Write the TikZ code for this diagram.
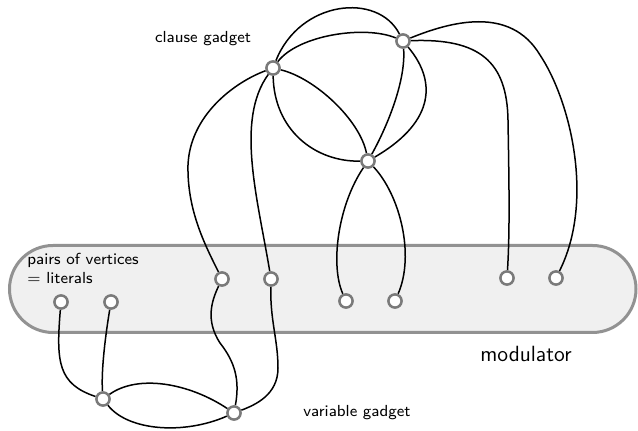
\documentclass[tikz,border=0pt]{standalone}
\usetikzlibrary{backgrounds}
\definecolor{bandfill}{HTML}{F0F0F0}
\definecolor{bandline}{HTML}{929292}
\definecolor{vline}{HTML}{7A7A7A}
\tikzset{
  vtx/.style={circle, draw=vline, line width=1.25pt, fill=white, inner sep=0pt, minimum size=6.6pt},
  edge/.style={line width=0.75pt, black},
  band/.style={draw=bandline, fill=bandfill, line width=1.5pt, rounded corners=21.75pt},
  smalllabel/.style={font=\sffamily\footnotesize, inner sep=0pt},
  biglabel/.style={font=\sffamily\fontsize{11}{13}\selectfont, inner sep=0pt},
}
\begin{document}
\begin{tikzpicture}[x=0.5pt, y=-0.5pt]
  \useasboundingbox (0,0) rectangle (638,431);

  % vertices
  \node[vtx] (L1) at (61,302) {};
  \node[vtx] (L2) at (111,302) {};
  \node[vtx] (A)  at (222,279) {};
  \node[vtx] (B)  at (271,279) {};
  \node[vtx] (C)  at (346,301) {};
  \node[vtx] (D)  at (395,301) {};
  \node[vtx] (E)  at (507,278) {};
  \node[vtx] (F)  at (556,278) {};
  \node[vtx] (V1) at (103,399) {};
  \node[vtx] (V2) at (234,413) {};
  \node[vtx] (T1) at (273,68) {};
  \node[vtx] (T2) at (403,41) {};
  \node[vtx] (T3) at (368,161) {};

  % labels
  \node[smalllabel] (lclause) at (203,39) {clause gadget};
  \node[smalllabel, anchor=west, align=left] (llit) at (27,268) {pairs of vertices\\$=$ literals};
  \node[smalllabel] (lvar) at (357,413) {variable gadget};
  \node[biglabel] (lmod) at (526,354) {modulator};

  \begin{scope}[on background layer]
    % modulator band, behind everything else
    \draw[band] (9.5,245.5) rectangle (636,332.5);

    % variable gadget
    \draw[edge] (L1) .. controls +(-5,60) and +(-45,-15) .. (V1);
    \draw[edge] (L2) .. controls +(-5,30) and +(-2,-30) .. (V1);
    \draw[edge] (V1) .. controls +(35,-25) and +(-45,-30) .. (V2);
    \draw[edge] (V1) .. controls +(25,32) and +(-50,22) .. (V2);
    \draw[edge] (A) .. controls (212,300) and (205,320) .. (220,343)
                    .. controls (235,362) and (240,380) .. (V2);
    \draw[edge] (B) .. controls (270,320) and (278,340) .. (278,368)
                    .. controls (278,395) and (255,405) .. (V2);

    % clause gadget
    \draw[edge] (T1) .. controls (235,82) and (190,115) .. (188,165)
                     .. controls (187,210) and (205,245) .. (A);
    \draw[edge] (T1) .. controls (235,120) and (258,200) .. (B);
    \draw[edge] (T1) .. controls (300,0) and (378,-8) .. (T2);
    \draw[edge] (T1) .. controls (298,35) and (365,25) .. (T2);
    \draw[edge] (T1) .. controls (315,78) and (360,120) .. (T3);
    \draw[edge] (T1) .. controls (274,130) and (315,162) .. (T3);
    \draw[edge] (T2) .. controls (406,80) and (388,125) .. (T3);
    \draw[edge] (T2) .. controls (440,85) and (430,125) .. (T3);
    \draw[edge] (T3) .. controls (338,205) and (330,265) .. (C);
    \draw[edge] (T3) .. controls (400,195) and (415,255) .. (D);
    \draw[edge] (T2) .. controls (480,38) and (507,62) .. (508,120)
                     .. controls (509,180) and (510,230) .. (E);
    \draw[edge] (T2) .. controls (450,22) and (510,5) .. (540,55)
                     .. controls (570,100) and (595,200) .. (F);
  \end{scope}
\end{tikzpicture}
\end{document}
